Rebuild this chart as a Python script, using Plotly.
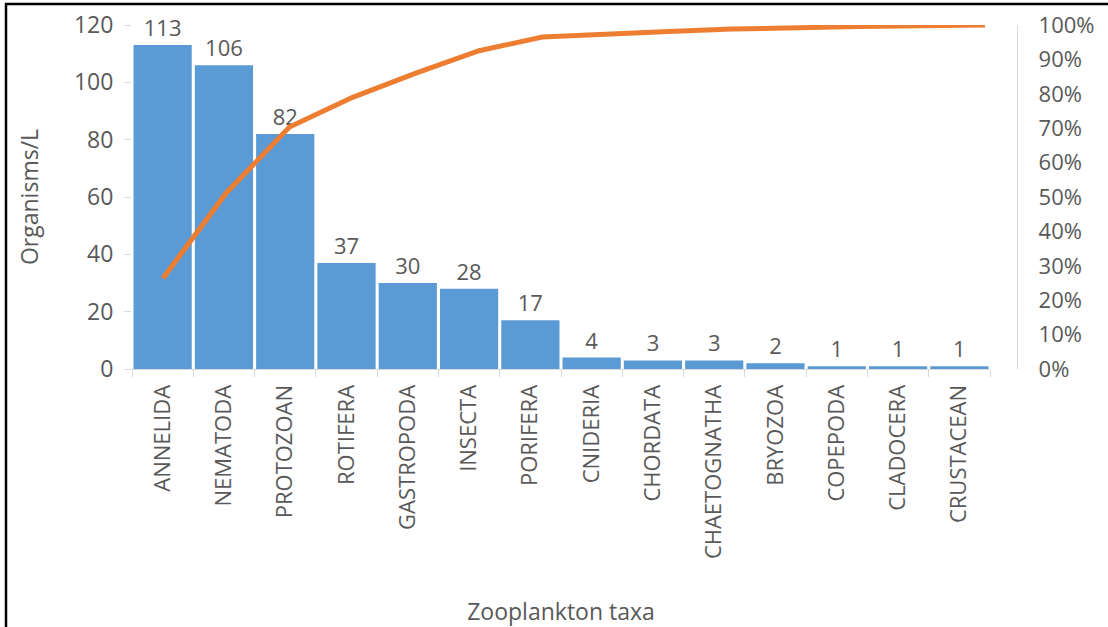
import plotly.graph_objects as go

# Zooplankton density per taxon (Organisms/L), sorted for a Pareto view
taxa = ["ANNELIDA", "NEMATODA", "PROTOZOAN", "ROTIFERA", "GASTROPODA", "INSECTA",
        "PORIFERA", "CNIDERIA", "CHORDATA", "CHAETOGNATHA", "BRYOZOA", "COPEPODA",
        "CLADOCERA", "CRUSTACEAN"]
organisms = [113, 106, 82, 37, 30, 28, 17, 4, 3, 3, 2, 1, 1, 1]

# Cumulative share of the total, for the Pareto line
total = sum(organisms)
cumulative = []
running = 0
for v in organisms:
    running += v
    cumulative.append(running / total)

left_ticks = [0, 20, 40, 60, 80, 100, 120]
pct_ticks = [i / 10 for i in range(11)]
pct_labels = [f"{i * 10}%" for i in range(11)]

TEXT = "#595959"
AXIS = "#d9d9d9"
FONT = "Open Sans"

fig = go.Figure()

fig.add_trace(go.Bar(
    x=taxa, y=organisms,
    marker=dict(color="#5B9BD5", line=dict(width=0)),
    text=organisms, textposition="outside",
    textfont=dict(family=FONT, size=22, color=TEXT),
    cliponaxis=False,
    xaxis="x", yaxis="y",
    showlegend=False,
))

fig.add_trace(go.Scatter(
    x=taxa, y=cumulative,
    mode="lines",
    line=dict(color="#ED7D31", width=5),
    xaxis="x2", yaxis="y2",
    showlegend=False,
    cliponaxis=False,
))

fig.update_layout(
    width=1108, height=627,
    margin=dict(l=132, r=91, t=25, b=258, autoexpand=False),
    paper_bgcolor="white", plot_bgcolor="white",
    font=dict(family=FONT, color=TEXT),
    bargap=0.05,
    xaxis=dict(
        domain=[0, 858 / 885],
        type="category", automargin=False,
        showline=True, linecolor=AXIS, linewidth=1.3,
        ticks="outside", tickson="boundaries", ticklen=7, tickcolor=AXIS,
        tickangle=-90, ticklabelstandoff=6,
        tickfont=dict(family=FONT, size=22, color=TEXT),
        showgrid=False, zeroline=False,
        title=dict(text="Zooplankton taxa", font=dict(family=FONT, size=23, color=TEXT),
                   standoff=48),
    ),
    xaxis2=dict(
        overlaying="x", anchor="y2", type="category",
        range=[-0.49, 13.08], visible=False,
    ),
    yaxis=dict(
        range=[0, 120], tickvals=left_ticks, automargin=False,
        showline=False, showgrid=False, zeroline=False,
        ticks="outside", ticklen=7, tickcolor=AXIS, ticklabelstandoff=6,
        tickfont=dict(family=FONT, size=23, color=TEXT),
        title=dict(text="Organisms/L", font=dict(family=FONT, size=23, color=TEXT),
                   standoff=28),
    ),
    yaxis2=dict(
        overlaying="y", side="right", anchor="free", position=1.0,
        automargin=False,
        range=[0, 1], tickvals=pct_ticks, ticktext=pct_labels,
        showline=True, linecolor=AXIS, linewidth=1.3,
        showgrid=False, zeroline=False, ticks="", ticklabelstandoff=16,
        tickfont=dict(family=FONT, size=22, color=TEXT),
    ),
    shapes=[dict(
        type="rect", xref="paper", yref="paper",
        x0=(6 - 132) / 885, x1=2.0, y0=-1.0, y1=(369 - 4) / 344,
        line=dict(color="black", width=2.5), fillcolor="rgba(0,0,0,0)",
        layer="above",
    )],
)

fig.write_html("out.html")
